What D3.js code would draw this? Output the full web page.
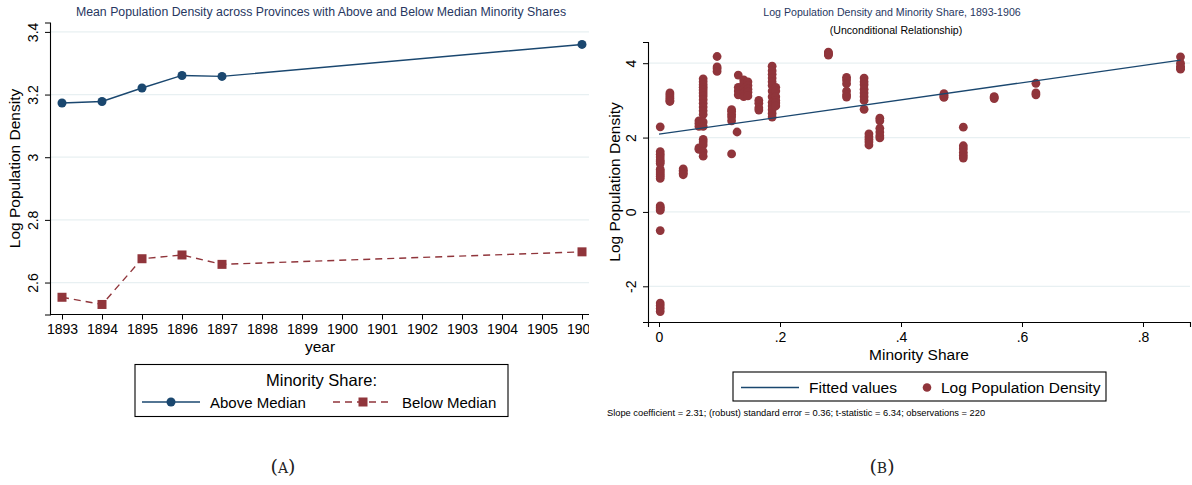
<!DOCTYPE html>
<html><head><meta charset="utf-8">
<script src="https://cdn.jsdelivr.net/npm/d3@7"></script>
<style>
body{margin:0;background:#fff}
text{font-family:"Liberation Sans",Arial,Helvetica,sans-serif}
</style>
</head><body>
<svg id="c" width="1192" height="485"></svg>
<script>
// ---------- Data: panel A ----------
const years = [1893, 1894, 1895, 1896, 1897, 1906];
const aboveMedian = [3.173, 3.178, 3.221, 3.261, 3.258, 3.360];
const belowMedian = [2.553, 2.530, 2.676, 2.688, 2.658, 2.698];
const yearTicks = [1893,1894,1895,1896,1897,1898,1899,1900,1901,1902,1903,1904,1905,1906];
const leftYTicks = [2.6, 2.8, 3, 3.2, 3.4];

// ---------- Data: panel B ----------
const clusterShare = [0.002, 0.018, 0.040, 0.066, 0.073, 0.096, 0.120, 0.129, 0.131, 0.140, 0.147,
  0.165, 0.187, 0.193, 0.280, 0.310, 0.339, 0.347, 0.365, 0.471, 0.503, 0.554, 0.623, 0.862];
const clusterLogDensity = [
  [2.29, 1.62, 1.55, 1.48, 1.40, 1.35, 1.30, 1.15, 1.10, 1.05, 1.00, 0.95, 0.90, 0.16, 0.12, 0.08, 0.04, -0.50, -2.45, -2.52, -2.60, -2.68],
  [3.20, 3.15, 3.10, 3.05, 3.00, 2.97],
  [1.16, 1.12, 1.08, 1.04, 1.00],
  [2.45, 2.38, 2.30, 1.72, 1.68],
  [3.58, 3.50, 3.42, 3.35, 3.28, 3.20, 3.12, 3.02, 2.92, 2.82, 2.72, 2.62, 2.42, 2.30, 1.95, 1.88, 1.80, 1.62, 1.50],
  [4.18, 3.90, 3.85, 3.78],
  [2.75, 2.70, 2.62, 2.55, 2.45, 1.56],
  [2.15],
  [3.68, 3.35, 3.25, 3.15],
  [3.55, 3.45, 3.30, 3.20, 3.10],
  [3.50, 3.40, 3.30, 3.22, 3.12],
  [3.00, 2.92, 2.80, 2.74],
  [3.92, 3.80, 3.70, 3.60, 3.50, 3.40, 3.25, 3.10, 2.95, 2.85, 2.75, 2.65, 2.55],
  [3.35, 3.25, 3.10, 3.00, 2.93, 2.85],
  [4.30, 4.27, 4.24, 4.22],
  [3.62, 3.55, 3.45, 3.25, 3.15, 3.09],
  [3.60, 3.50, 3.42, 3.30, 3.20, 3.10, 3.00, 2.76],
  [2.10, 2.02, 1.95, 1.88, 1.80],
  [2.52, 2.45, 2.25, 2.15, 2.05, 1.99],
  [3.18, 3.14, 3.10, 3.08],
  [2.28, 1.78, 1.70, 1.60, 1.52, 1.45],
  [3.10, 3.08, 3.05],
  [3.46, 3.20, 3.15],
  [4.17, 4.00, 3.92, 3.87, 3.84]
];
const fitIntercept = 2.09, fitSlope = 2.31;
const rightXTicks = [0, 0.2, 0.4, 0.6, 0.8];
const rightYTicks = [-2, 0, 2, 4];

const navy = "#1a476f", maroon = "#90353b", grid = "#e8f0f2", titleCol = "#27375f";
const svg = d3.select("#c");

function styleAxis(g){
  g.select(".domain").attr("stroke","#000").attr("stroke-width",1.1);
  g.selectAll(".tick line").attr("stroke","#000").attr("stroke-width",1);
  g.selectAll(".tick text").attr("fill","#000").style("font-family",'"Liberation Sans",Arial,sans-serif');
}
function rotateYLabels(g){
  g.selectAll(".tick text").attr("x",0).attr("dy",0).attr("text-anchor","middle")
    .attr("transform","translate(-12,0) rotate(-90)");
}

// ================= PANEL A =================
svg.append("clipPath").attr("id","clipA").append("rect").attr("x",0).attr("y",0).attr("width",589).attr("height",485);
const A = svg.append("g").attr("clip-path","url(#clipA)");
const xL = d3.scaleLinear().domain([1892.7, 1906.175]).range([50, 589]);
const yL = d3.scaleLinear().domain([2.498, 3.43]).range([314.5, 22.5]);

A.append("g").selectAll("line").data(leftYTicks).join("line")
  .attr("x1",50).attr("x2",589).attr("y1",d=>yL(d)).attr("y2",d=>yL(d))
  .attr("stroke",grid).attr("stroke-width",1.2);

const axLx = A.append("g").attr("transform","translate(0,314.5)")
  .call(d3.axisBottom(xL).tickValues(yearTicks).tickFormat(d3.format("d")).tickSizeOuter(0).tickSize(5).tickPadding(5));
styleAxis(axLx); axLx.selectAll(".tick text").style("font-size","14px");
axLx.select(".domain").attr("d","M50,0H589");

const axLy = A.append("g").attr("transform","translate(50,0)")
  .call(d3.axisLeft(yL).tickValues(leftYTicks).tickFormat(d=>String(d)).tickSizeOuter(0).tickSize(5));
styleAxis(axLy); axLy.selectAll(".tick text").style("font-size","14px"); rotateYLabels(axLy);

const lineL = d3.line().x((d,i)=>xL(years[i])).y(d=>yL(d));
A.append("path").datum(aboveMedian).attr("d",lineL).attr("fill","none").attr("stroke",navy).attr("stroke-width",1.4);
A.append("path").datum(belowMedian).attr("d",lineL).attr("fill","none").attr("stroke",maroon).attr("stroke-width",1.4).attr("stroke-dasharray","7,5");
A.append("g").selectAll("circle").data(aboveMedian).join("circle")
  .attr("cx",(d,i)=>xL(years[i])).attr("cy",d=>yL(d)).attr("r",4.5).attr("fill",navy);
A.append("g").selectAll("rect").data(belowMedian).join("rect")
  .attr("x",(d,i)=>xL(years[i])-4.5).attr("y",d=>yL(d)-4.5).attr("width",9).attr("height",9).attr("fill",maroon);

A.append("text").attr("x",321).attr("y",16).attr("text-anchor","middle").attr("fill",titleCol)
  .style("font-size","12.3px").text("Mean Population Density across Provinces with Above and Below Median Minority Shares");
A.append("text").attr("x",320).attr("y",352).attr("text-anchor","middle").style("font-size","15.5px").text("year");
A.append("text").attr("transform","translate(20,168.5) rotate(-90)").attr("text-anchor","middle")
  .style("font-size","15.5px").text("Log Population Density");

// legend A
const LA = svg.append("g");
LA.append("rect").attr("x",135).attr("y",364.5).attr("width",373).attr("height",52).attr("fill","#fff").attr("stroke","#000").attr("stroke-width",1.1);
LA.append("text").attr("x",321.5).attr("y",386).attr("text-anchor","middle").style("font-size","16.5px").text("Minority Share:");
LA.append("line").attr("x1",142).attr("x2",200).attr("y1",402).attr("y2",402).attr("stroke",navy).attr("stroke-width",1.4);
LA.append("circle").attr("cx",171).attr("cy",402).attr("r",4.5).attr("fill",navy);
LA.append("text").attr("x",210).attr("y",407.5).style("font-size","15px").text("Above Median");
LA.append("line").attr("x1",333).attr("x2",392).attr("y1",402).attr("y2",402).attr("stroke",maroon).attr("stroke-width",1.4).attr("stroke-dasharray","7,5");
LA.append("rect").attr("x",358.5).attr("y",397.5).attr("width",9).attr("height",9).attr("fill",maroon);
LA.append("text").attr("x",402).attr("y",407.5).style("font-size","15px").text("Below Median");

// ================= PANEL B =================
const B = svg.append("g");
const xR = d3.scaleLinear().domain([-0.0182, 0.8777]).range([648, 1190]);
const yR = d3.scaleLinear().domain([-2.96, 4.57]).range([322, 42]);

B.append("g").selectAll("line").data(rightYTicks).join("line")
  .attr("x1",648).attr("x2",1190).attr("y1",d=>yR(d)).attr("y2",d=>yR(d))
  .attr("stroke",grid).attr("stroke-width",1.2);

const axRx = B.append("g").attr("transform","translate(0,322)")
  .call(d3.axisBottom(xR).tickValues(rightXTicks).tickFormat(d=>d===0?"0":d3.format(".1f")(d).replace(/^0/,"")).tickSizeOuter(0).tickSize(5).tickPadding(5));
styleAxis(axRx); axRx.selectAll(".tick text").style("font-size","14px");
const axRy = B.append("g").attr("transform","translate(648,0)")
  .call(d3.axisLeft(yR).tickValues(rightYTicks).tickFormat(d=>String(d)).tickSizeOuter(0).tickSize(5));
styleAxis(axRy); axRy.selectAll(".tick text").style("font-size","14px"); rotateYLabels(axRy);

const pts = [];
clusterShare.forEach((s,i)=>clusterLogDensity[i].forEach(v=>pts.push([s,v])));
B.append("g").selectAll("circle").data(pts).join("circle")
  .attr("cx",d=>xR(d[0])).attr("cy",d=>yR(d[1])).attr("r",4.4).attr("fill",maroon);

const fitX = [0, d3.max(clusterShare)];
B.append("path").datum(fitX).attr("d",d3.line().x(d=>xR(d)).y(d=>yR(fitIntercept+fitSlope*d)))
  .attr("fill","none").attr("stroke",navy).attr("stroke-width",1.3);

B.append("text").attr("x",892).attr("y",16).attr("text-anchor","middle").attr("fill",titleCol)
  .style("font-size","10.6px").text("Log Population Density and Minority Share, 1893-1906");
B.append("text").attr("x",896).attr("y",34).attr("text-anchor","middle").attr("fill","#000")
  .style("font-size","10.6px").text("(Unconditional Relationship)");
B.append("text").attr("x",919).attr("y",360).attr("text-anchor","middle").style("font-size","15.5px").text("Minority Share");
B.append("text").attr("transform","translate(620,182) rotate(-90)").attr("text-anchor","middle")
  .style("font-size","15.5px").text("Log Population Density");

const LB = svg.append("g");
LB.append("rect").attr("x",733).attr("y",372).attr("width",373).attr("height",29).attr("fill","#fff").attr("stroke","#000").attr("stroke-width",1.1);
LB.append("line").attr("x1",741).attr("x2",799).attr("y1",387.5).attr("y2",387.5).attr("stroke",navy).attr("stroke-width",1.3);
LB.append("text").attr("x",809).attr("y",393).style("font-size","15.5px").text("Fitted values");
LB.append("circle").attr("cx",927).attr("cy",387.5).attr("r",4.3).attr("fill",maroon);
LB.append("text").attr("x",941).attr("y",393).style("font-size","15.5px").text("Log Population Density");

B.append("text").attr("x",607).attr("y",415.5).style("font-size","9.3px")
  .text("Slope coefficient = 2.31; (robust) standard error = 0.36; t-statistic = 6.34; observations = 220");

// panel labels
function panelLabel(x, letter){
  const t = svg.append("text").attr("x",x).attr("y",473).attr("text-anchor","middle")
    .style("font-family",'"DejaVu Serif","Liberation Serif",serif').style("font-size","19px").attr("fill","#222");
  t.append("tspan").text("(");
  t.append("tspan").style("font-size","14px").text(letter);
  t.append("tspan").text(")");
}
panelLabel(283,"A");
panelLabel(882,"B");
</script>
</body></html>
